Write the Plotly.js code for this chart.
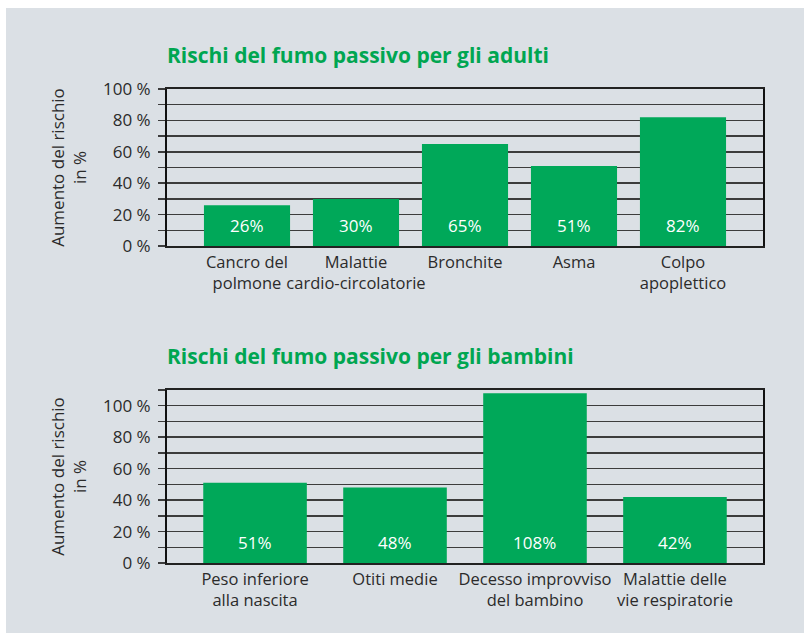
<!DOCTYPE html>
<html>
<head>
<meta charset="utf-8">
<script src="https://cdn.plot.ly/plotly-3.0.1.min.js"></script>
<style>html,body{margin:0;padding:0;background:#fff;}#chart{width:804px;height:633px;}</style>
</head>
<body>
<div id="chart"></div>
<script>
// ---- data ----
const adultCategories = ["Cancro del<br>polmone", "Malattie<br>cardio-circolatorie", "Bronchite", "Asma", "Colpo<br>apoplettico"];
const adultValues = [26, 30, 65, 51, 82];
const adultLabels = ["26%", "30%", "65%", "51%", "82%"];

const childCategories = ["Peso inferiore<br>alla nascita", "Otiti medie", "Decesso improvviso<br>del bambino", "Malattie delle<br>vie respiratorie"];
const childValues = [51, 48, 108, 42];
const childLabels = ["51%", "48%", "108%", "42%"];

const adultTickVals = [0, 20, 40, 60, 80, 100];
const adultTickText = ["0 %", "20 %", "40 %", "60 %", "80 %", "100 %"];
const childTickVals = [0, 20, 40, 60, 80, 100];
const childTickText = ["0 %", "20 %", "40 %", "60 %", "80 %", "100 %"];

const titleAdults = "Rischi del fumo passivo per gli adulti";
const titleChildren = "Rischi del fumo passivo per gli bambini";
const yTitle = "Aumento del rischio<br>in %";

// ---- style ----
const GREEN = "#00a859";
const TITLE_GREEN = "#00a651";
const PANEL = "#dbe0e5";
const TEXT = "#2b2b2b";
const GRID = "#3c3c3c";
const FONT = "Open Sans, Noto Sans, sans-serif";

const W = 804, H = 633;
const px = v => v / W;
const py = v => 1 - v / H;

const traces = [
  {type: "bar", x: adultCategories, y: adultValues, xaxis: "x", yaxis: "y",
   marker: {color: GREEN, line: {width: 0}}, hoverinfo: "skip"},
  {type: "bar", x: childCategories, y: childValues, xaxis: "x2", yaxis: "y2",
   marker: {color: GREEN, line: {width: 0}}, hoverinfo: "skip"}
];

function yaxisDef(domain, range, tv, tt) {
  return {
    domain: domain, range: range, fixedrange: true,
    tickvals: tv, ticktext: tt, ticks: "outside", ticklen: 7, tickwidth: 1.5, tickcolor: GRID,
    ticklabelstandoff: 4,
    showgrid: true, gridcolor: GRID, gridwidth: 1.5,
    minor: {dtick: 10, tick0: 0, ticks: "outside", ticklen: 7, tickwidth: 1.5, tickcolor: GRID,
            showgrid: true, gridcolor: GRID, gridwidth: 1.5},
    showline: true, linecolor: "#111", linewidth: 2, mirror: true,
    zeroline: false,
    tickfont: {family: FONT, size: 17, color: TEXT},
    title: {text: yTitle, font: {family: FONT, size: 17, color: TEXT}, standoff: 12}
  };
}
function xaxisDef(domain, range, anchor) {
  return {
    domain: domain, range: range, anchor: anchor, fixedrange: true,
    showline: true, linecolor: "#222", linewidth: 2, mirror: true,
    ticks: "", showgrid: false, zeroline: false, tickangle: 0,
    tickfont: {family: FONT, size: 16.5, color: TEXT}
  };
}

const annotations = [
  {text: "<b>" + titleAdults + "</b>", xref: "paper", yref: "paper", x: px(165), y: py(55),
   xanchor: "left", yanchor: "middle", showarrow: false,
   font: {family: FONT, size: 21, color: TITLE_GREEN}},
  {text: "<b>" + titleChildren + "</b>", xref: "paper", yref: "paper", x: px(165), y: py(356),
   xanchor: "left", yanchor: "middle", showarrow: false,
   font: {family: FONT, size: 21, color: TITLE_GREEN}}
];
adultCategories.forEach((c, i) => annotations.push({
  text: adultLabels[i], x: c, y: 0, xref: "x", yref: "y", yanchor: "bottom", yshift: 7,
  showarrow: false, font: {family: FONT, size: 17, color: "#ffffff"}
}));
childCategories.forEach((c, i) => annotations.push({
  text: childLabels[i], x: c, y: 0, xref: "x2", yref: "y2", yanchor: "bottom", yshift: 7,
  showarrow: false, font: {family: FONT, size: 17, color: "#ffffff"}
}));

const layout = {
  width: W, height: H,
  margin: {l: 0, r: 0, t: 0, b: 0},
  paper_bgcolor: "#ffffff", plot_bgcolor: "rgba(0,0,0,0)",
  showlegend: false, bargap: 0.21,
  font: {family: FONT, color: TEXT},
  shapes: [{type: "rect", xref: "paper", yref: "paper", x0: px(6), x1: 1, y0: 0, y1: py(8),
            fillcolor: PANEL, line: {width: 0}, layer: "below"}],
  xaxis: xaxisDef([px(167), px(763)], [-0.734, 4.734], "y"),
  yaxis: yaxisDef([py(246), py(89)], [0, 100], adultTickVals, adultTickText),
  xaxis2: xaxisDef([px(167), px(763)], [-0.629, 3.629], "y2"),
  yaxis2: Object.assign(yaxisDef([py(563), py(390)], [0, 110], childTickVals, childTickText), {anchor: "x2"}),
  annotations: annotations
};
layout.yaxis.anchor = "x";
traces[1].width = childValues.map(() => 0.74);

Plotly.newPlot("chart", traces, layout, {displayModeBar: false, staticPlot: true});
</script>
</body>
</html>
